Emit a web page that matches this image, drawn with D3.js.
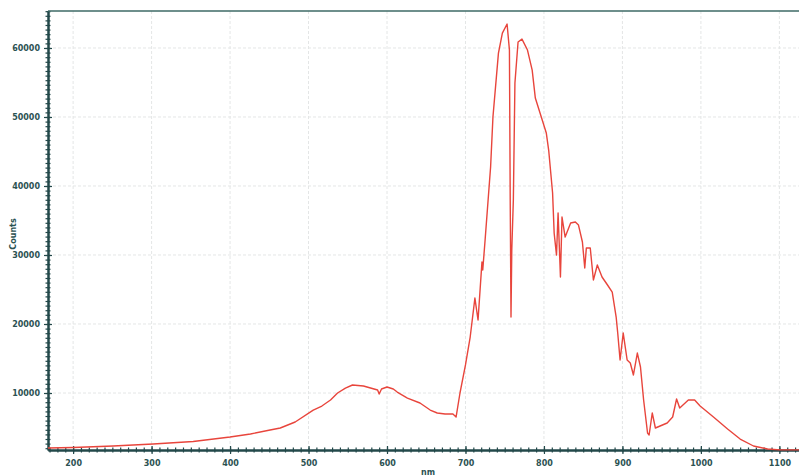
<!DOCTYPE html>
<html>
<head>
<meta charset="utf-8">
<script src="https://cdn.jsdelivr.net/npm/d3@7"></script>
<style>
  html, body { margin: 0; padding: 0; background: #fff; }
  svg { display: block; }
</style>
</head>
<body>
<div id="chart"></div>
<script>
(function spectrumChart() {
  // values
  const wavelength = [168, 200, 251, 302, 353, 400, 426, 451, 464, 483, 506, 517, 528, 537, 547, 556, 570, 579, 588, 590, 593, 600, 608, 613, 626, 642, 655, 664, 674, 684, 688, 693, 700, 706, 712, 716, 721, 722, 725, 732, 735, 742, 747, 753, 756, 757, 758, 759, 761, 763, 767, 772, 779, 785, 789, 795, 803, 806, 811, 813, 816, 818, 821, 823, 827, 834, 840, 844, 849, 852, 854, 859, 863, 868, 874, 881, 887, 892, 894, 897, 901, 906, 910, 914, 919, 923, 927, 932, 934, 938, 942, 948, 957, 964, 969, 973, 984, 992, 999, 1016, 1034, 1050, 1067, 1085, 1101, 1125];
  const counts = [2030, 2100, 2320, 2610, 2970, 3620, 4060, 4640, 4930, 5800, 7530, 8110, 8980, 10000, 10720, 11160, 11010, 10720, 10430, 9850, 10580, 10870, 10580, 10140, 9270, 8550, 7530, 7100, 6960, 6960, 6520, 10000, 14060, 18110, 23760, 20580, 28980, 27820, 32170, 42750, 49990, 59260, 62160, 63470, 59700, 37960, 21010, 30720, 37960, 54920, 60860, 61290, 59700, 56800, 52740, 50570, 47670, 45210, 38980, 33180, 29990, 36080, 26810, 35500, 32600, 34630, 34780, 34340, 31880, 28110, 31010, 31010, 26370, 28550, 26810, 25650, 24630, 21010, 18690, 14780, 18690, 14780, 14350, 12610, 15790, 13770, 8980, 4200, 3910, 7100, 4930, 5220, 5650, 6520, 9130, 7820, 8980, 8980, 8110, 6520, 4780, 3330, 2320, 1880, 1760, 1760];

  const xTicks = [200, 300, 400, 500, 600, 700, 800, 900, 1000, 1100];
  const yTicks = [10000, 20000, 30000, 40000, 50000, 60000];
  const xDomain = [168, 1125];
  const yDomain = [1740, 65360];

  const width = 799, height = 476;
  const margin = { top: 11, right: 0, bottom: 26, left: 48 };
  const axisColor = '#23494a';
  const labelColor = '#2c5252';
  const font = "'DejaVu Sans', sans-serif";

  const svg = d3.select('#chart').append('svg')
    .attr('width', width)
    .attr('height', height);

  const x = d3.scaleLinear().domain(xDomain).range([margin.left, width - margin.right]);
  const y = d3.scaleLinear().domain(yDomain).range([height - margin.bottom, margin.top]);

  // grid
  svg.append('g').selectAll('line').data(xTicks).join('line')
    .attr('x1', d => x(d)).attr('x2', d => x(d))
    .attr('y1', margin.top).attr('y2', height - margin.bottom)
    .attr('stroke', '#e4e6e6').attr('stroke-dasharray', '3,2');
  svg.append('g').selectAll('line').data(yTicks).join('line')
    .attr('x1', margin.left).attr('x2', width - margin.right)
    .attr('y1', d => y(d)).attr('y2', d => y(d))
    .attr('stroke', '#e4e6e6').attr('stroke-dasharray', '3,2');

  // minor ticks
  const xMinor = d3.range(170, 1125, 10);
  const yMinor = d3.range(2000, 65360, 10000 / 15);

  const xMinorAxis = svg.append('g')
    .attr('transform', `translate(0,${height - margin.bottom})`)
    .call(d3.axisBottom(x).tickValues(xMinor).tickFormat('').tickSize(3).tickSizeOuter(0));
  xMinorAxis.selectAll('.tick line').attr('y1', -2.5).attr('y2', 2.5);

  const yMinorAxis = svg.append('g')
    .attr('transform', `translate(${margin.left},0)`)
    .call(d3.axisLeft(y).tickValues(yMinor).tickFormat('').tickSize(3).tickSizeOuter(0));
  yMinorAxis.selectAll('.tick line').attr('x1', -2.5).attr('x2', 2.5);

  // major axes
  const xAxis = svg.append('g')
    .attr('transform', `translate(0,${height - margin.bottom})`)
    .call(d3.axisBottom(x).tickValues(xTicks).tickFormat(d3.format('d'))
      .tickSize(4).tickSizeOuter(0).tickPadding(6));
  xAxis.selectAll('.tick line').attr('y1', -4).attr('y2', 4);

  const yAxis = svg.append('g')
    .attr('transform', `translate(${margin.left},0)`)
    .call(d3.axisLeft(y).tickValues(yTicks).tickFormat(d3.format('d'))
      .tickSize(4).tickSizeOuter(0).tickPadding(4));
  yAxis.selectAll('.tick line').attr('x1', -4).attr('x2', 4);

  [xMinorAxis, yMinorAxis, xAxis, yAxis].forEach(g => {
    g.selectAll('line').attr('stroke', axisColor).attr('stroke-width', 1.2);
    g.select('.domain').attr('stroke', axisColor).attr('stroke-width', 2);
    g.selectAll('text')
      .attr('fill', labelColor)
      .attr('font-family', font)
      .attr('font-weight', 'bold')
      .attr('font-size', '8px');
  });

  // top border
  svg.append('line')
    .attr('x1', margin.left).attr('x2', width)
    .attr('y1', margin.top).attr('y2', margin.top)
    .attr('stroke', '#3e6a66').attr('stroke-width', 1.5);

  // axis titles
  svg.append('text')
    .attr('transform', `translate(16,${234}) rotate(-90)`)
    .attr('text-anchor', 'middle')
    .attr('fill', labelColor)
    .attr('font-family', font)
    .attr('font-weight', 'bold')
    .attr('font-size', '8px')
    .text('Counts');

  svg.append('text')
    .attr('x', 428)
    .attr('y', 475)
    .attr('text-anchor', 'middle')
    .attr('fill', labelColor)
    .attr('font-family', font)
    .attr('font-weight', 'bold')
    .attr('font-size', '8px')
    .text('nm');

  // spectrum
  const pts = wavelength.map((w, i) => [w, counts[i]]);
  const line = d3.line()
    .x(d => x(d[0]))
    .y(d => y(d[1]));

  svg.append('path')
    .datum(pts)
    .attr('d', line)
    .attr('fill', 'none')
    .attr('stroke', '#e8453c')
    .attr('stroke-width', 1.4)
    .attr('stroke-linejoin', 'round');
})();
</script>
</body>
</html>
